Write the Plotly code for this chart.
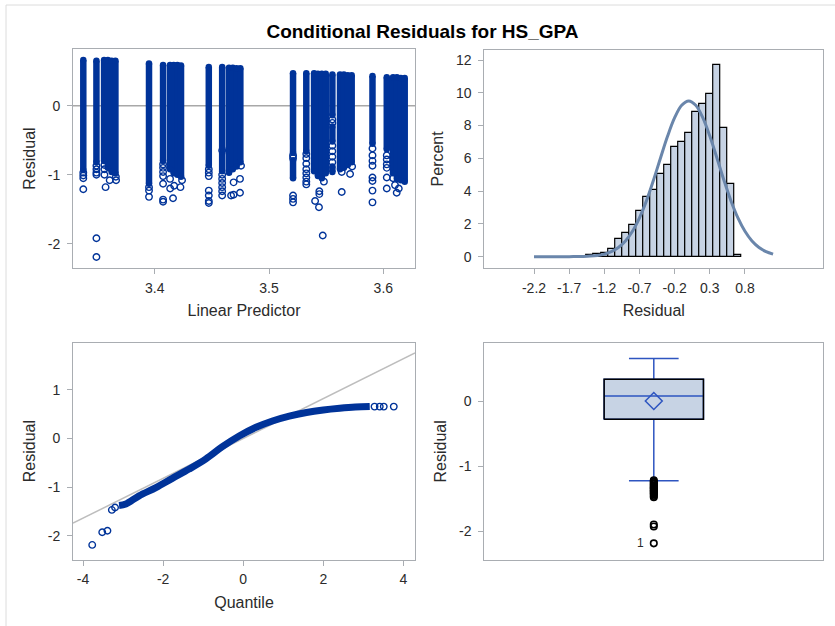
import plotly.graph_objects as go
from plotly.subplots import make_subplots

# ---------------- data ----------------
# Residual vs linear predictor: dense vertical strips of observations
# (linear predictor, highest residual, lowest residual of the solid run)
LP_STRIP_X = [3.3375, 3.3490,
              3.3557, 3.3590, 3.3623, 3.3656,
              3.3950, 3.4073,
              3.4134, 3.4166, 3.4198, 3.4230,
              3.4473, 3.4590, 3.4590,
              3.4650, 3.4683, 3.4716, 3.4749,
              3.5210, 3.5210, 3.5326,
              3.5394, 3.5428, 3.5462, 3.5496,
              3.5554, 3.5554, 3.5554,
              3.5621, 3.5655, 3.5689, 3.5723,
              3.5905, 3.6030,
              3.6085, 3.6119, 3.6153, 3.6187]
LP_STRIP_TOP = [0.66, 0.65,
                0.66, 0.66, 0.65, 0.65,
                0.61, 0.59,
                0.59, 0.59, 0.59, 0.58,
                0.56, 0.56, -0.68,
                0.55, 0.55, 0.54, 0.54,
                0.47, -0.79, 0.47,
                0.47, 0.46, 0.46, 0.46,
                0.45, -0.30, -0.88,
                0.45, 0.45, 0.44, 0.44,
                0.43, 0.41,
                0.41, 0.41, 0.40, 0.40]
LP_STRIP_LOW = [-0.93, -0.82,
                -0.80, -0.90, -0.96, -0.98,
                -1.13, -0.80,
                -0.92, -0.98, -1.00, -1.03,
                -0.87, -0.62, -0.95,
                -0.97, -0.92, -0.88, -0.82,
                -0.68, -1.05, -0.66,
                -0.95, -1.02, -1.05, -0.98,
                -0.14, -0.52, -0.96,
                -0.92, -0.90, -0.86, -0.82,
                -0.55, -0.63,
                -0.98, -1.06, -1.08, -1.10]
# Isolated observations below the solid runs
LP_SPARSE_X = [3.3375, 3.3375, 3.3375, 3.3375,
               3.3490, 3.3490, 3.3490, 3.3490, 3.3490, 3.3490,
               3.3560, 3.3560, 3.3560, 3.3570, 3.3606, 3.3660, 3.3662,
               3.3950, 3.3950, 3.3950,
               3.4073, 3.4073, 3.4073, 3.4073, 3.4073, 3.4073, 3.4073,
               3.4134, 3.4135, 3.4160, 3.4170, 3.4225, 3.4239,
               3.4473, 3.4473, 3.4473, 3.4473, 3.4473, 3.4473, 3.4473,
               3.4590, 3.4590, 3.4590, 3.4590, 3.4590, 3.4590, 3.4590,
               3.4668, 3.4690, 3.4746, 3.4746, 3.4690, 3.4755,
               3.5210, 3.5210, 3.5210, 3.5210, 3.5210,
               3.5326, 3.5326, 3.5326, 3.5326, 3.5326, 3.5326, 3.5326, 3.5326,
               3.5403, 3.5437, 3.5440, 3.5440, 3.5470, 3.5480,
               3.5554, 3.5554, 3.5554, 3.5554, 3.5554, 3.5554,
               3.5636, 3.5709, 3.5636, 3.5727,
               3.5905, 3.5905, 3.5905, 3.5905, 3.5905, 3.5905, 3.5905, 3.5905,
               3.6030, 3.6030, 3.6030, 3.6030, 3.6030, 3.6030,
               3.6102, 3.6117, 3.6135, 3.6085]
LP_SPARSE_R = [-0.97, -1.01, -1.05, -1.21,
               -0.87, -0.92, -0.97, -1.00, -1.92, -2.19,
               -0.86, -0.92, -1.00, -1.18, -1.08, -1.03, -1.08,
               -1.18, -1.23, -1.32,
               -0.85, -0.90, -0.96, -1.02, -1.13, -1.36, -1.39,
               -1.06, -1.20, -1.34, -1.16, -1.18, -1.08,
               -0.92, -0.97, -1.02, -1.23, -1.30, -1.38, -1.41,
               -0.65, -1.00, -1.06, -1.12, -1.18, -1.24, -1.30,
               -1.30, -1.11, -1.06, -1.26, -1.29, -0.87,
               -0.72, -0.76, -1.30, -1.35, -1.40,
               -0.70, -0.76, -0.84, -0.92, -0.98, -1.04, -1.10, -1.14,
               -1.38, -1.47, -1.24, -1.28, -1.88, -1.10,
               -0.20, -0.25, -0.58, -0.66, -0.74, -0.82,
               -1.25, -0.99, -0.96, -0.88,
               -0.62, -0.72, -0.80, -0.87, -1.04, -1.09, -1.23, -1.40,
               -0.72, -0.78, -0.85, -0.90, -1.04, -1.20,
               -1.15, -1.26, -1.20, -1.05]
LP_TICKS = [3.4, 3.5, 3.6]
LP_RESID_TICKS = [-2, -1, 0]

# Histogram of residuals (bin midpoints, percent of observations)
HIST_MID = [-1.4, -1.3, -1.2, -1.1, -1.0, -0.9, -0.8, -0.7, -0.6, -0.5, -0.4,
            -0.3, -0.2, -0.1, 0.0, 0.1, 0.2, 0.3, 0.4, 0.5, 0.6, 0.7]
HIST_PCT = [0.08, 0.16, 0.24, 0.49, 1.10, 1.42, 1.91, 2.79, 3.66, 4.05, 5.02,
            5.57, 6.67, 7.00, 7.52, 8.83, 9.29, 9.94, 11.69, 7.85, 4.45, 0.08]
BIN_WIDTH = 0.1
HIST_TICKS = [-2.2, -1.7, -1.2, -0.7, -0.2, 0.3, 0.8]
PCT_TICKS = [0, 2, 4, 6, 8, 10, 12]

# Normal density overlay, in percent per bin
NORMAL_X = [-2.2, -2.1, -2.0, -1.9, -1.8, -1.7, -1.6, -1.5, -1.4, -1.3, -1.2,
            -1.1, -1.0, -0.9, -0.8, -0.7, -0.6, -0.5, -0.4, -0.3, -0.2, -0.1,
            0.0, 0.1, 0.2, 0.3, 0.4, 0.5, 0.6, 0.7, 0.8, 0.9, 1.0, 1.1, 1.2]
NORMAL_PCT = [0.00, 0.00, 0.00, 0.00, 0.00, 0.00, 0.01, 0.02, 0.04, 0.08, 0.16,
              0.31, 0.56, 0.96, 1.55, 2.37, 3.42, 4.68, 6.04, 7.36, 8.48, 9.24,
              9.50, 9.24, 8.48, 7.36, 6.04, 4.68, 3.42, 2.37, 1.55, 0.96, 0.56,
              0.31, 0.16]

# Normal quantile plot
QQ_Q = [-3.10, -2.93, -2.60, -2.18, -1.77, -1.35, -0.93, -0.52, -0.10, 0.32,
        0.73, 1.15, 1.58, 2.00, 2.41, 2.80, 3.16]
QQ_R = [-1.38, -1.35, -1.18, -1.01, -0.82, -0.63, -0.42, -0.17, 0.05, 0.23,
        0.36, 0.46, 0.535, 0.585, 0.62, 0.645, 0.655]
QQ_SPARSE_Q = [-3.77, -3.52, -3.39, -3.28, -3.20, 3.28, 3.41, 3.51, 3.76]
QQ_SPARSE_R = [-2.19, -1.93, -1.90, -1.47, -1.42, 0.655, 0.655, 0.655, 0.655]
QQ_RANGE = [-4.25, 4.29]
QQ_TICKS = [-4, -2, 0, 2, 4]
QQ_RESID_TICKS = [-2, -1, 0, 1]
REF_INTERCEPT = 0.0
REF_SLOPE = 0.41

# Box plot summary
BOX_Q1, BOX_MEDIAN, BOX_Q3 = -0.28, 0.077, 0.334
BOX_LOWER, BOX_UPPER = -1.226, 0.655
BOX_MEAN = 0.0
BOX_OUTLIERS = [-1.22, -1.24, -1.25, -1.27, -1.28, -1.30, -1.31, -1.33, -1.34,
                -1.35, -1.37, -1.38, -1.39, -1.41, -1.42, -1.44, -1.46, -1.48,
                -1.90, -1.93, -2.19]
OUTLIER_ID = "1"
BOX_RESID_TICKS = [-2, -1, 0]

# ---------------- styling ----------------
FONT = "Liberation Sans, Arial, sans-serif"
FRAME = "#a9adb2"
TEXT = "#2b2b2b"
MARK = "#003399"
BOXBLUE = "#2e55c0"
BAR_FILL = "#c7d3e4"
CURVE = "#6a86ab"
W, H = 835, 626

fig = make_subplots(rows=2, cols=2)

# --- residual vs linear predictor ---
sx, sy = [], []
for x, top, low in zip(LP_STRIP_X, LP_STRIP_TOP, LP_STRIP_LOW):
    sx += [x, x, None]
    sy += [top, low, None]
fig.add_trace(go.Scatter(x=sx, y=sy, mode="lines+markers",
                         line=dict(color=MARK, width=6.5),
                         marker=dict(symbol="circle", size=6.5, color=MARK),
                         hoverinfo="skip", showlegend=False), row=1, col=1)
fig.add_trace(go.Scatter(x=LP_SPARSE_X, y=LP_SPARSE_R, mode="markers",
                         marker=dict(symbol="circle-open", size=6.5, color=MARK,
                                     line=dict(width=1.4, color=MARK)),
                         showlegend=False), row=1, col=1)

# --- histogram with normal curve ---
fig.add_trace(go.Bar(x=HIST_MID, y=HIST_PCT, width=BIN_WIDTH,
                     marker=dict(color=BAR_FILL, line=dict(color="black", width=1.2)),
                     showlegend=False), row=1, col=2)
fig.add_trace(go.Scatter(x=NORMAL_X, y=NORMAL_PCT, mode="lines", line_shape="spline",
                         line=dict(color=CURVE, width=3), showlegend=False),
              row=1, col=2)

# --- Q-Q plot ---
fig.add_trace(go.Scatter(x=QQ_RANGE,
                         y=[REF_INTERCEPT + REF_SLOPE * q for q in QQ_RANGE],
                         mode="lines", line=dict(color="#bdbdbd", width=1.5),
                         showlegend=False), row=2, col=1)
fig.add_trace(go.Scatter(x=QQ_Q, y=QQ_R, mode="lines", line_shape="spline",
                         line=dict(color=MARK, width=7), showlegend=False),
              row=2, col=1)
fig.add_trace(go.Scatter(x=QQ_SPARSE_Q, y=QQ_SPARSE_R, mode="markers",
                         marker=dict(symbol="circle-open", size=6.5, color=MARK,
                                     line=dict(width=1.4, color=MARK)),
                         showlegend=False), row=2, col=1)

# --- box plot ---
BOX_X, BOX_W = 0.5, 0.293
fig.add_trace(go.Box(x=[BOX_X], q1=[BOX_Q1], median=[BOX_MEDIAN], q3=[BOX_Q3],
                     lowerfence=[BOX_LOWER], upperfence=[BOX_UPPER],
                     width=BOX_W, whiskerwidth=0.5, fillcolor=BAR_FILL,
                     line=dict(color=BOXBLUE, width=1.5), boxpoints=False,
                     showlegend=False), row=2, col=2)
# black outline of the interquartile box
bl, br = BOX_X - BOX_W / 2, BOX_X + BOX_W / 2
fig.add_trace(go.Scatter(x=[bl, br, br, bl, bl],
                         y=[BOX_Q1, BOX_Q1, BOX_Q3, BOX_Q3, BOX_Q1], mode="lines",
                         line=dict(color="black", width=1.5), showlegend=False),
              row=2, col=2)
fig.add_trace(go.Scatter(x=[BOX_X], y=[BOX_MEAN], mode="markers",
                         marker=dict(symbol="diamond-open", size=13, color=BOXBLUE,
                                     line=dict(width=1.5, color=BOXBLUE)),
                         showlegend=False), row=2, col=2)
fig.add_trace(go.Scatter(x=[BOX_X] * len(BOX_OUTLIERS), y=BOX_OUTLIERS, mode="markers",
                         marker=dict(symbol="circle-open", size=6.5, color="black",
                                     line=dict(width=1.6, color="black")),
                         showlegend=False), row=2, col=2)
fig.add_annotation(x=BOX_X - 0.038, y=BOX_OUTLIERS[-1], xref="x4", yref="y4",
                   text=OUTLIER_ID, showarrow=False,
                   font=dict(family=FONT, size=12, color=TEXT))


def fmt(v):
    # plain hyphen-minus for negative tick labels
    return ("%g" % v).replace("\u2212", "-")


def axis(dom, rng, title=None, tickvals=None, show_ticks=True, vertical=False):
    d = dict(domain=dom, range=rng, showline=True, mirror=True, linecolor=FRAME,
             linewidth=1, showgrid=False, zeroline=False,
             tickfont=dict(family=FONT, size=14, color=TEXT))
    if show_ticks:
        d.update(ticks="outside", ticklen=5, tickcolor=FRAME, tickwidth=1,
                 tickmode="array", tickvals=tickvals,
                 ticktext=[fmt(v) for v in tickvals],
                 ticklabelstandoff=4 if vertical else 2)
    else:
        d.update(ticks="", showticklabels=False)
    if title:
        d["title"] = dict(text=title, font=dict(family=FONT, size=16, color=TEXT),
                          standoff=8 if vertical else 10)
    return d


XL, XR = [73 / W, 415 / W], [484.3 / W, 823.3 / W]
YT, YB = [1 - 268 / H, 1 - 49 / H], [1 - 559.5 / H, 1 - 342.7 / H]

fig.update_layout(
    width=W, height=H, margin=dict(l=0, r=0, t=0, b=0),
    paper_bgcolor="white", plot_bgcolor="white",
    font=dict(family=FONT, color=TEXT),
    title=dict(text="<b>Conditional Residuals for HS_GPA</b>", x=0.506, xanchor="center",
               y=1 - 31 / H, yanchor="middle",
               font=dict(family=FONT, size=19, color="black")),
    xaxis=axis(XL, [3.3285, 3.6277], "Linear Predictor", LP_TICKS),
    yaxis=axis(YT, [-2.35, 0.82], "Residual", LP_RESID_TICKS, vertical=True),
    xaxis2=axis(XR, [-2.907, 1.914], "Residual", HIST_TICKS),
    yaxis2=axis([1 - 267.7 / H, 1 - 50 / H], [-0.67, 12.61], "Percent", PCT_TICKS,
                vertical=True),
    xaxis3=axis(XL, QQ_RANGE, "Quantile", QQ_TICKS),
    yaxis3=axis(YB, [-2.49, 1.97], "Residual", QQ_RESID_TICKS, vertical=True),
    xaxis4=axis(XR, [0, 1], show_ticks=False),
    yaxis4=axis([1 - 560 / H, 1 - 342.7 / H], [-2.446, 0.897], "Residual",
                BOX_RESID_TICKS, vertical=True),
    bargap=0,
    shapes=[
        dict(type="line", xref="x domain", yref="y", x0=0, x1=1, y0=0, y1=0,
             line=dict(color="#a8a8a8", width=1.5), layer="below"),
        dict(type="rect", xref="paper", yref="paper", x0=6 / W, x1=1.2,
             y0=-0.2, y1=1 - 5 / H, line=dict(color="#dcdcdc", width=1), layer="below"),
    ],
)

fig.write_html("out.html")
